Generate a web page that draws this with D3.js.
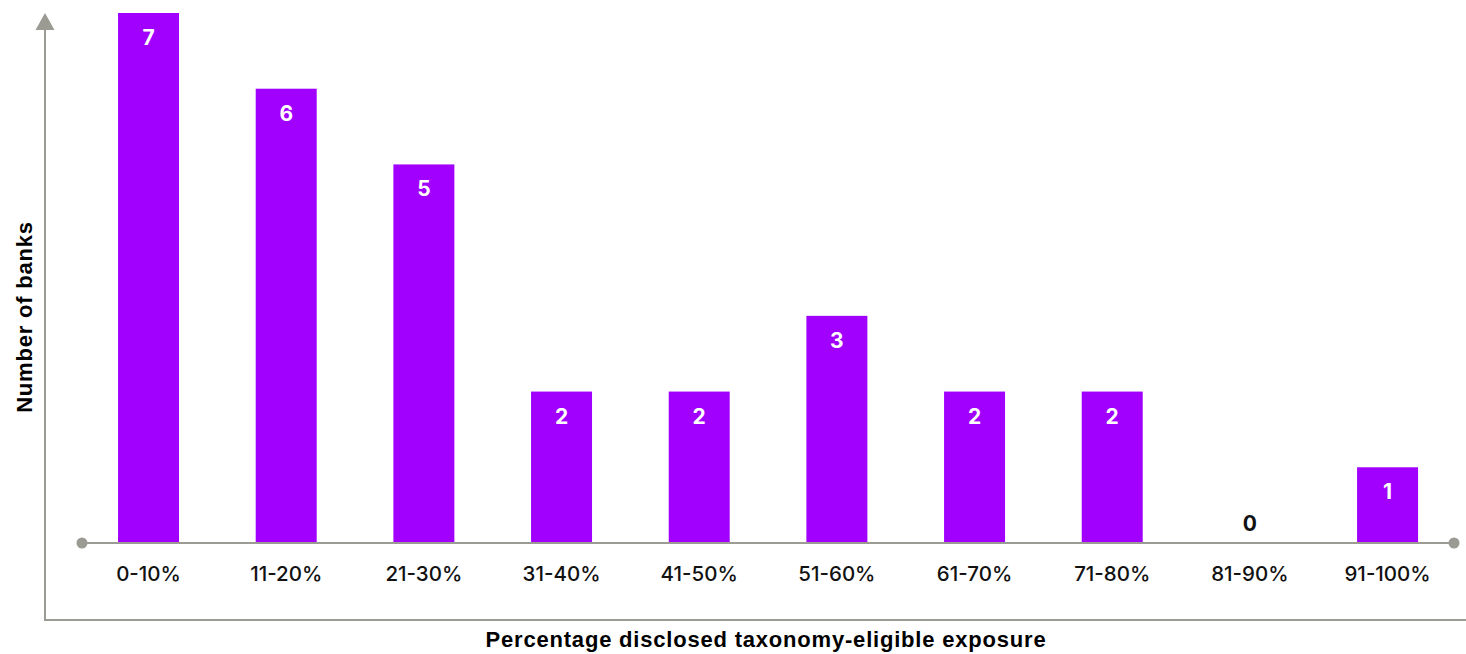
<!DOCTYPE html>
<html>
<head>
<meta charset="utf-8">
<script src="https://cdn.jsdelivr.net/npm/d3@7"></script>
<style>
  html, body { margin: 0; padding: 0; background: #fff; }
  svg { display: block; }
</style>
</head>
<body>
<svg id="chart" width="1466" height="654"></svg>
<script>
// Distribution of banks by share of disclosed taxonomy-eligible exposure
const categories = ["0-10%", "11-20%", "21-30%", "31-40%", "41-50%", "51-60%", "61-70%", "71-80%", "81-90%", "91-100%"];
const banks = [7, 6, 5, 2, 2, 3, 2, 2, 0, 1];
const yDomain = [0, 7];

const svg = d3.select("#chart");
const axisGrey = "#9b9b93";
const barColor = "#a100ff";

const baseY = 543;
const x = d3.scaleBand()
  .domain(categories)
  .range([79.7, 1456.4])
  .paddingInner(0.557)
  .paddingOuter(0.2785);
const y = d3.scaleLinear().domain(yDomain).range([baseY, 13]);

// Outer frame: vertical arrow axis and bottom rule
svg.append("line")
  .attr("x1", 45).attr("x2", 45).attr("y1", 28).attr("y2", 620)
  .attr("stroke", axisGrey).attr("stroke-width", 2);
svg.append("path")
  .attr("d", "M45,13 L54.5,30 L35.5,30 Z")
  .attr("fill", axisGrey);
svg.append("line")
  .attr("x1", 44).attr("x2", 1466).attr("y1", 620).attr("y2", 620)
  .attr("stroke", axisGrey).attr("stroke-width", 2);

// Bars
svg.append("g").selectAll("rect")
  .data(categories.map((c, i) => ({ c, v: banks[i] })))
  .join("rect")
  .attr("x", d => x(d.c))
  .attr("width", x.bandwidth())
  .attr("y", d => y(d.v))
  .attr("height", d => y(0) - y(d.v))
  .attr("fill", barColor);

// Baseline with end dots
const xa = d3.axisBottom(x).tickSize(0).tickPadding(0);
const gx = svg.append("g").attr("transform", `translate(0,${baseY})`).call(xa);
gx.select(".domain").remove();
svg.append("line")
  .attr("x1", 82).attr("x2", 1454).attr("y1", baseY).attr("y2", baseY)
  .attr("stroke", axisGrey).attr("stroke-width", 2);
svg.selectAll("circle.end")
  .data([82, 1454])
  .join("circle")
  .attr("class", "end")
  .attr("cx", d => d).attr("cy", baseY).attr("r", 5.5)
  .attr("fill", axisGrey);

gx.selectAll(".tick text")
  .attr("dy", null)
  .attr("y", 38)
  .attr("font-family", "Inter, 'Open Sans', sans-serif")
  .attr("font-size", 20.5)
  .attr("font-weight", 500)
  .attr("fill", "#111");

// Value labels
svg.append("g").selectAll("text")
  .data(categories.map((c, i) => ({ c, v: banks[i] })))
  .join("text")
  .attr("x", d => x(d.c) + x.bandwidth() / 2)
  .attr("y", d => d.v > 0 ? y(d.v) + 32 : y(0) - 12)
  .attr("text-anchor", "middle")
  .attr("font-family", "Inter, 'Open Sans', sans-serif")
  .attr("font-size", 21)
  .attr("font-weight", 700)
  .attr("fill", d => d.v > 0 ? "#fff" : "#111")
  .text(d => d.v);

// Axis titles
svg.append("text")
  .attr("x", 766).attr("y", 647)
  .attr("text-anchor", "middle")
  .attr("font-family", "'Liberation Sans', Arial, sans-serif")
  .attr("font-size", 22)
  .attr("font-weight", 700)
  .attr("letter-spacing", 0.8)
  .attr("fill", "#000")
  .text("Percentage disclosed taxonomy-eligible exposure");

svg.append("text")
  .attr("transform", "translate(32,317) rotate(-90)")
  .attr("text-anchor", "middle")
  .attr("font-family", "'Liberation Sans', Arial, sans-serif")
  .attr("font-size", 22)
  .attr("font-weight", 700)
  .attr("letter-spacing", 0.8)
  .attr("fill", "#000")
  .text("Number of banks");
</script>
</body>
</html>
